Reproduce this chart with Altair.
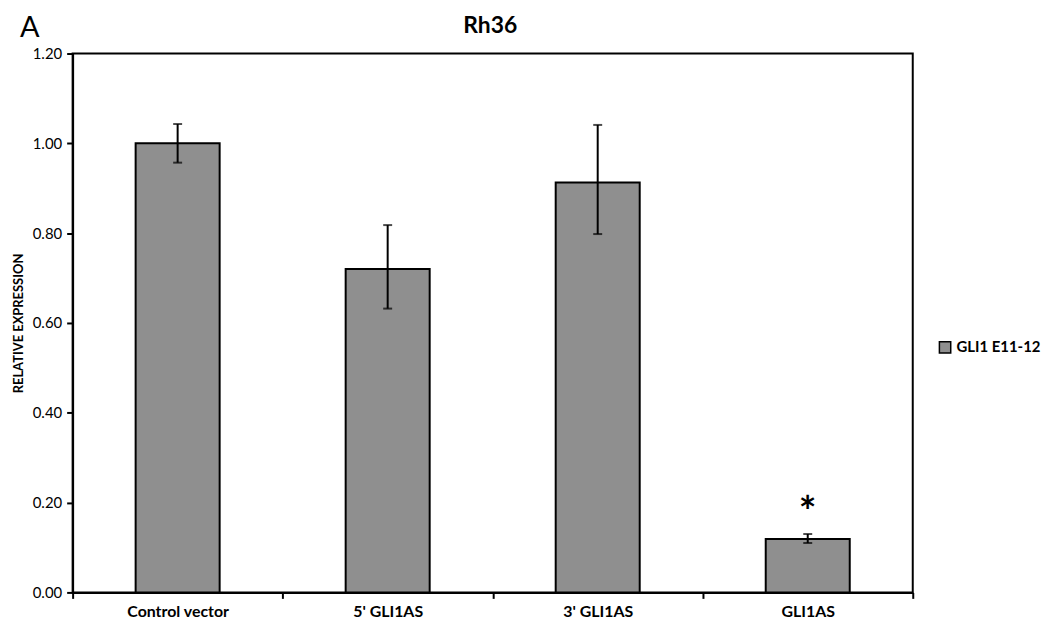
import altair as alt
import pandas as pd

categories = ["Control vector", "5' GLI1AS", "3' GLI1AS", "GLI1AS"]
values = [1.00, 0.72, 0.913, 0.119]
err_low = [0.957, 0.632, 0.798, 0.110]
err_high = [1.043, 0.818, 1.041, 0.130]
marks = ["", "", "", "*"]
series = "GLI1 E11-12"
chart_title = "Rh36"
panel_letter = "A"

df = pd.DataFrame({
    "cat": categories,
    "val": values,
    "lo": err_low,
    "hi": err_high,
    "mark": marks,
    "series": [series] * len(categories),
})

FONT = "Lato"
x = alt.X("cat:N", sort=categories, title=None,
          scale=alt.Scale(paddingInner=0, paddingOuter=0),
          axis=alt.Axis(labelAngle=0, labelFontWeight="bold", labelFontSize=16,
                        labelPadding=5, tickBand="extent", tickSize=6,
                        tickColor="black", tickWidth=2, domainColor="black",
                        domainWidth=2, labelColor="black", labelFont=FONT))
yscale = alt.Scale(domain=[0, 1.2])

base = alt.Chart(df)

bars = base.mark_bar(width={"band": 0.4}, stroke="black", strokeWidth=2).encode(
    x=x,
    y=alt.Y("val:Q", scale=yscale, title="RELATIVE EXPRESSION",
            axis=alt.Axis(values=[0, 0.2, 0.4, 0.6, 0.8, 1.0, 1.2], format=".2f",
                          grid=False, tickSize=6, tickColor="black", tickWidth=2,
                          domainColor="black", domainWidth=2, labelFontSize=15,
                          labelColor="black", labelPadding=5, labelFont=FONT,
                          titleFontWeight="bold", titleFontSize=13, titlePadding=7,
                          titleColor="black", titleFont=FONT)),
    color=alt.Color("series:N", scale=alt.Scale(range=["#8f8f8f"]),
                    legend=alt.Legend(orient="none", legendX=870, legendY=288, title=None,
                                      symbolType="square", symbolSize=130,
                                      symbolStrokeColor="black", symbolStrokeWidth=1.5,
                                      labelFontWeight="bold", labelFontSize=15,
                                      labelColor="black", labelFont=FONT,
                                      labelLimit=200, labelOffset=4)),
)

rules = base.mark_rule(color="black", strokeWidth=2).encode(
    x=alt.X("cat:N", sort=categories), y="lo:Q", y2="hi:Q")
cap_hi = base.mark_tick(color="black", size=9, thickness=2).encode(
    x=alt.X("cat:N", sort=categories), y="hi:Q")
cap_lo = base.mark_tick(color="black", size=9, thickness=2).encode(
    x=alt.X("cat:N", sort=categories), y="lo:Q")
star = base.mark_text(fontSize=42, fontWeight="bold", color="black", font=FONT,
                      baseline="middle", dy=-20).encode(
    x=alt.X("cat:N", sort=categories), y="hi:Q", text="mark:N")

letter = alt.Chart(pd.DataFrame({"t": [panel_letter]})).mark_text(
    fontSize=29, font=FONT, color="black", align="left", baseline="alphabetic").encode(
    x=alt.value(-53), y=alt.value(-17), text="t:N")

title_txt = alt.Chart(pd.DataFrame({"t": [chart_title]})).mark_text(
    fontSize=23, fontWeight="bold", font=FONT, color="black", align="center",
    baseline="middle").encode(
    x=alt.value(420), y=alt.value(-28), text="t:N")

chart = alt.layer(bars, rules, cap_hi, cap_lo, star, letter, title_txt).properties(
    width=845, height=542,
    background="white",
    autosize=alt.AutoSizeParams(type="none"),
    padding={"left": 65, "top": 44, "right": 130, "bottom": 33},
).configure_view(stroke="black", strokeWidth=2)

chart.save("out.html", embed_options={"renderer": "svg", "actions": False})
